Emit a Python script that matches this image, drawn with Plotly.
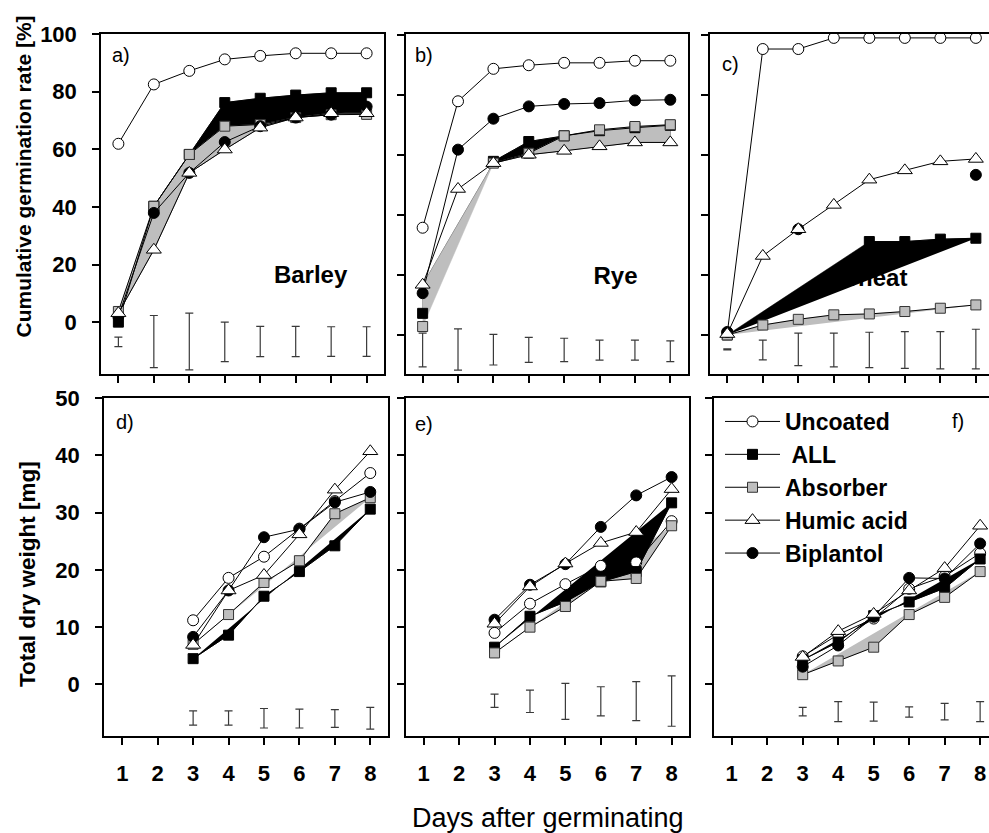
import plotly.graph_objects as go

W, H = 989, 833
FONT = "Liberation Sans, Arial, Helvetica, sans-serif"

# ---------------- data ----------------
days = [1, 2, 3, 4, 5, 6, 7, 8]
days_dw = [3, 4, 5, 6, 7, 8]
x_ticks = [1, 2, 3, 4, 5, 6, 7, 8]
germ_ticks = [0, 20, 40, 60, 80, 100]
dw_ticks = [0, 10, 20, 30, 40, 50]

series_names = ["Uncoated", "\u00a0ALL", "Absorber", "Humic acid", "Biplantol"]
crops = ["Barley", "Rye", "Wheat"]
panel_labels = ["a)", "b)", "c)", "d)", "e)", "f)"]

# Cumulative germination rate [%]
barley_uncoated = [61.9, 82.5, 87.2, 91.2, 92.4, 93.3, 93.3, 93.3]
barley_all = [0.0, 40.2, 58.2, 76.2, 77.7, 78.8, 79.6, 79.6]
barley_absorber = [3.7, 40.2, 58.2, 68.0, 68.6, 71.0, 72.0, 72.1]
barley_humic = [3.1, 25.1, 51.8, 59.9, 67.5, 71.0, 72.5, 72.5]
barley_biplantol = [2.0, 37.9, 51.8, 62.5, 68.0, 71.0, 72.0, 74.8]
barley_err_lo = [-8.5, -15.8, -16.6, -13.7, -12.0, -12.0, -11.9, -11.9]
barley_err_hi = [-5.2, 2.3, 3.1, 0.0, -1.5, -1.5, -1.6, -1.6]

rye_uncoated = [35.7, 77.8, 88.6, 89.8, 90.6, 90.6, 91.3, 91.3]
rye_all = [7.2, None, 57.8, 64.4, 66.3, 68.0, 69.0, 69.8]
rye_absorber = [2.8, None, 57.2, 60.5, 66.3, 68.3, 69.4, 70.0]
rye_humic = [16.7, 48.6, 57.2, 60.0, 61.3, 62.8, 64.1, 64.1]
rye_biplantol = [13.9, 61.7, 72.0, 76.1, 76.9, 77.2, 78.1, 78.3]
rye_err_lo = [-10.6, -11.7, -10.0, -9.1, -8.9, -8.4, -8.4, -8.9]
rye_err_hi = [0.6, 2.0, 0.2, -0.8, -1.1, -1.7, -1.7, -2.0]

wheat_uncoated = [0.6, 95.2, 95.2, 98.9, 98.9, 98.9, 98.9, 98.9]
wheat_all = [0.0, None, None, None, 31.1, 31.1, 31.9, 32.2]
wheat_absorber = [0.0, 3.3, 5.2, 6.7, 7.0, 7.8, 8.9, 10.0]
wheat_humic = [0.3, 26.3, 35.2, 43.3, 51.7, 54.8, 57.8, 58.6]
wheat_biplantol = [1.0, None, 35.2, None, None, None, None, 53.3]
wheat_err_lo = [-5.0, -8.3, -10.2, -10.6, -10.9, -11.1, -11.3, -11.3]
wheat_err_hi = [-4.6, -1.7, 0.6, 0.6, 0.9, 1.1, 1.1, 1.9]

# Total dry weight [mg]
barley_dw_uncoated = [11.2, 18.6, 22.3, 27.2, 32.0, 36.9]
barley_dw_all = [4.5, 8.6, 15.4, 19.7, 24.2, 30.6]
barley_dw_absorber = [7.0, 12.2, 17.8, 21.6, 29.8, 32.6]
barley_dw_humic = [6.9, 16.4, 19.1, 26.2, 34.0, 40.7]
barley_dw_biplantol = [8.3, 16.4, 25.7, 27.1, 31.8, 33.6]
barley_dw_err_lo = [-7.1, -7.1, -7.6, -7.6, -7.5, -7.8]
barley_dw_err_hi = [-4.6, -4.6, -4.2, -4.3, -4.4, -4.0]

rye_dw_uncoated = [9.0, 14.1, 17.5, 20.7, 21.3, 28.5]
rye_dw_all = [6.5, 11.9, 14.4, 17.9, 19.7, 31.7]
rye_dw_absorber = [5.5, 10.0, 13.6, 18.0, 18.5, 27.7]
rye_dw_humic = [10.6, 17.1, 21.1, 24.7, 26.6, 34.1]
rye_dw_biplantol = [11.3, 17.4, 21.0, 27.5, 33.0, 36.2]
rye_dw_err_lo = [-4.0, -4.9, -6.1, -5.5, -6.3, -7.3]
rye_dw_err_hi = [-1.7, -1.0, 0.2, -0.4, 0.5, 1.5]

wheat_dw_uncoated = [4.9, 8.7, 11.5, 16.7, 18.9, 22.9]
wheat_dw_all = [4.3, 7.4, 12.0, 14.4, 16.8, 21.9]
wheat_dw_absorber = [1.7, 4.1, 6.5, 12.2, 15.2, 19.7]
wheat_dw_humic = [4.8, 9.3, 12.3, 16.4, 20.3, 27.7]
wheat_dw_biplantol = [3.1, 6.8, 11.8, 18.6, 18.5, 24.6]
wheat_dw_err_lo = [-5.5, -6.5, -6.4, -5.7, -6.2, -6.5]
wheat_dw_err_hi = [-4.0, -3.0, -3.1, -3.9, -3.3, -3.0]

# ---------------- layout geometry (pixels) ----------------
panels = [
    dict(x=days, s=[barley_uncoated, barley_all, barley_absorber, barley_humic, barley_biplantol],
         lo=barley_err_lo, hi=barley_err_hi, dom=(101, 384, 34, 374), xr=(0.51, 8.49), yr=(-18, 100),
         yt=germ_ticks, fill="band", crop=crops[0], cpos=(6.42, 15.6), lab=(120.5, 55.5)),
    dict(x=days, s=[rye_uncoated, rye_all, rye_absorber, rye_humic, rye_biplantol],
         lo=rye_err_lo, hi=rye_err_hi, dom=(406, 688, 34, 374), xr=(0.53, 8.5), yr=(-13, 100.2),
         yt=germ_ticks, fill="band", crop=crops[1], cpos=(6.45, 18.8), lab=(424, 55)),
    dict(x=days, s=[wheat_uncoated, wheat_all, wheat_absorber, wheat_humic, wheat_biplantol],
         lo=wheat_err_lo, hi=wheat_err_hi, dom=(710, 989, 34, 374), xr=(0.513, 8.37), yr=(-13, 100.2),
         yt=germ_ticks, fill="hull", crop=crops[2], cpos=(5.06, 18.3), lab=(730.5, 64)),
    dict(x=days_dw, s=[barley_dw_uncoated, barley_dw_all, barley_dw_absorber, barley_dw_humic, barley_dw_biplantol],
         lo=barley_dw_err_lo, hi=barley_dw_err_hi, dom=(104, 388, 398, 736), xr=(0.485, 8.5), yr=(-9, 50),
         yt=dw_ticks, fill="hull", crop=None, cpos=None, lab=(125, 422)),
    dict(x=days_dw, s=[rye_dw_uncoated, rye_dw_all, rye_dw_absorber, rye_dw_humic, rye_dw_biplantol],
         lo=rye_dw_err_lo, hi=rye_dw_err_hi, dom=(406, 689, 398, 736), xr=(0.5, 8.49), yr=(-9, 50),
         yt=dw_ticks, fill="hull", crop=None, cpos=None, lab=(424, 424)),
    dict(x=days_dw, s=[wheat_dw_uncoated, wheat_dw_all, wheat_dw_absorber, wheat_dw_humic, wheat_dw_biplantol],
         lo=wheat_dw_err_lo, hi=wheat_dw_err_hi, dom=(714, 989, 398, 736), xr=(0.5, 8.25), yr=(-9, 50),
         yt=dw_ticks, fill="hull", crop=None, cpos=None, lab=(957.5, 420.5)),
]

styles = [
    dict(symbol="circle", size=11, color="white", line=dict(color="black", width=1)),
    dict(symbol="square", size=10, color="black", line=dict(color="black", width=1)),
    dict(symbol="square", size=10, color="#bebebe", line=dict(color="#333333", width=1)),
    dict(symbol="triangle-up", size=13, color="white", line=dict(color="black", width=1)),
    dict(symbol="circle", size=11, color="black", line=dict(color="black", width=1)),
]
draw_order = [0, 1, 2, 4, 3]  # Humic acid on top


def band(xs, upper, lower):
    pts = [(x, u, l) for x, u, l in zip(xs, upper, lower) if u is not None and l is not None]
    px = [p[0] for p in pts] + [p[0] for p in reversed(pts)]
    py = [p[1] for p in pts] + [p[2] for p in reversed(pts)]
    return px, py


def hull(xs, ys):
    pts = [(x, y) for x, y in zip(xs, ys) if y is not None]
    return [p[0] for p in pts], [p[1] for p in pts]


def fill_trace(px, py, color, xa, ya):
    return go.Scatter(x=px, y=py, mode="lines", fill="toself", fillcolor=color,
                      line=dict(width=0.5, color=color), xaxis=xa, yaxis=ya,
                      showlegend=False, hoverinfo="skip")


fig = go.Figure()
layout = {}
annotations = []

for i, p in enumerate(panels):
    k = "" if i == 0 else str(i + 1)
    xa, ya = "x" + k, "y" + k
    l, r, t, b = p["dom"]
    xs = p["x"]
    s = p["s"]

    # crop label (drawn beneath fills)
    if p["crop"]:
        fig.add_trace(go.Scatter(x=[p["cpos"][0]], y=[p["cpos"][1]], mode="text",
                                 text=["<b>" + p["crop"] + "</b>"],
                                 textfont=dict(size=24, color="black", family=FONT),
                                 xaxis=xa, yaxis=ya, showlegend=False, hoverinfo="skip"))

    # filled areas
    if p["fill"] == "band":
        bx, by = band(xs, s[1], s[3])
        fig.add_trace(fill_trace(bx, by, "black", xa, ya))
        gx, gy = band(xs, s[2], s[3])
        fig.add_trace(fill_trace(gx, gy, "#bebebe", xa, ya))
    else:
        gx, gy = hull(xs, s[2])
        fig.add_trace(fill_trace(gx, gy, "#bebebe", xa, ya))
        bx, by = hull(xs, s[1])
        fig.add_trace(fill_trace(bx, by, "black", xa, ya))

    # LSD-type bars
    centers = [(a + c) / 2 for a, c in zip(p["lo"], p["hi"])]
    halves = [(c - a) / 2 for a, c in zip(p["lo"], p["hi"])]
    fig.add_trace(go.Scatter(x=xs, y=centers, mode="markers",
                             marker=dict(size=2, opacity=0),
                             error_y=dict(type="data", array=halves, symmetric=True,
                                          width=4, thickness=1.2, color="#3a3a3a"),
                             xaxis=xa, yaxis=ya, showlegend=False, hoverinfo="skip"))

    # series
    for j in draw_order:
        fig.add_trace(go.Scatter(x=xs, y=s[j], mode="lines+markers", name=series_names[j],
                                 line=dict(color="black", width=1),
                                 marker=styles[j], xaxis=xa, yaxis=ya,
                                 showlegend=(i == 5), legendrank=j + 1,
                                 connectgaps=False))

    ax_common = dict(showline=True, mirror=True, linecolor="black", linewidth=1.5,
                     ticks="outside", ticklen=7, tickwidth=1.5, tickcolor="black",
                     showgrid=False, zeroline=False, automargin=False,
                     tickfont=dict(size=22, family=FONT, color="black", weight="bold"))
    layout["xaxis" + k] = dict(ax_common, domain=[l / W, r / W], range=list(p["xr"]),
                               tickmode="array", tickvals=x_ticks,
                               showticklabels=(i >= 3), anchor=ya, ticklabelstandoff=10)
    layout["yaxis" + k] = dict(ax_common, domain=[1 - b / H, 1 - t / H], range=list(p["yr"]),
                               tickmode="array", tickvals=p["yt"],
                               showticklabels=(i in (0, 3)), anchor=xa, ticklabelstandoff=11)

    lx, ly = p["lab"]
    annotations.append(dict(text=panel_labels[i], x=lx / W, y=1 - ly / H, xref="paper", yref="paper",
                            showarrow=False, xanchor="center", yanchor="middle",
                            font=dict(size=20, family=FONT, color="black")))

annotations += [
    dict(text="<b>Cumulative germination rate [%]</b>", x=23 / W, y=1 - 176.5 / H, xref="paper",
         yref="paper", showarrow=False, textangle=-90, xanchor="center", yanchor="middle",
         font=dict(size=21, family=FONT, color="black")),
    dict(text="<b>Total dry weight [mg]</b>", x=27 / W, y=1 - 574 / H, xref="paper",
         yref="paper", showarrow=False, textangle=-90, xanchor="center", yanchor="middle",
         font=dict(size=22.5, family=FONT, color="black")),
    dict(text="Days after germinating", x=548 / W, y=1 - 818 / H, xref="paper",
         yref="paper", showarrow=False, xanchor="center", yanchor="middle",
         font=dict(size=27, family=FONT, color="black")),
]

fig.update_layout(
    width=W, height=H, margin=dict(l=0, r=0, t=0, b=0),
    paper_bgcolor="white", plot_bgcolor="white",
    font=dict(family=FONT, color="black"),
    annotations=annotations,
    legend=dict(x=720 / W, y=1 - 400 / H, xanchor="left", yanchor="top",
                bgcolor="rgba(0,0,0,0)", itemwidth=55,
                font=dict(size=23, family=FONT, color="black", weight="bold"),
                tracegroupgap=0),
    **layout,
)

fig.write_html("out.html")
